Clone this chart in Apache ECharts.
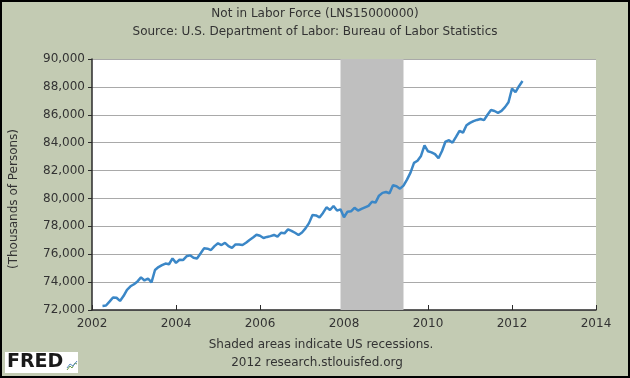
<!DOCTYPE html>
<html>
<head>
<meta charset="utf-8">
<script src="https://cdn.jsdelivr.net/npm/echarts@6/dist/echarts.min.js"></script>
<style>
html,body{margin:0;padding:0;background:#c3cbb3;}
#chart{width:630px;height:378px;}
</style>
</head>
<body>
<div id="chart"></div>
<script>
// ---- data ----
const startYear = 2002, startMonth = 4; // first observation: 2002-04
const notInLaborForce = [
  72290, 72320, 72600, 72900, 72880, 72650, 73000, 73450, 73700,
  73850, 74050, 74340, 74120, 74260, 73980, 74870, 75080, 75220, 75330, 75280, 75700,
  75380, 75600, 75580, 75850, 75920, 75750, 75700, 76050, 76420, 76400, 76300, 76580,
  76780, 76660, 76820, 76580, 76450, 76700, 76690, 76660, 76820, 77020, 77200, 77400,
  77320, 77160, 77240, 77300, 77380, 77260, 77540, 77500, 77780, 77680, 77540, 77380,
  77560, 77850, 78230, 78810, 78780, 78640, 78960, 79360, 79170, 79460, 79130, 79220,
  78650, 79050, 79080, 79330, 79130, 79250, 79360, 79470, 79760, 79700, 80200, 80400,
  80460, 80370, 80940, 80880, 80700, 80920, 81350, 81850, 82550, 82700, 83050, 83800,
  83380, 83300, 83180, 82880, 83400, 84080, 84180, 84000, 84420, 84850, 84720, 85250,
  85420, 85540, 85630, 85700, 85620, 86000, 86340, 86270, 86140, 86280, 86550, 86900,
  87880, 87620, 88050, 88420
];
const recessionStart = '2007-12';
const recessionEnd = '2009-06';
const xTickYears = [2002, 2004, 2006, 2008, 2010, 2012, 2014];
const yTicks = [72000, 74000, 76000, 78000, 80000, 82000, 84000, 86000, 88000, 90000];

// ---- helpers ----
function ym(str){ const p = str.split('-'); return +p[0] + (+p[1]-1)/12; }
const dates = notInLaborForce.map((_, i) => {
  const t = (startMonth - 1) + i;
  const y = startYear + Math.floor(t/12), m = t % 12 + 1;
  return y + '-' + (m < 10 ? '0' + m : m);
});
const seriesData = notInLaborForce.map((v, i) => [ym(dates[i]), v]);

const txt = '#333333';
const font12 = '12px "DejaVu Sans", sans-serif';

const chart = echarts.init(document.getElementById('chart'), null, {renderer:'canvas'});
chart.setOption({
  backgroundColor: '#c3cbb3',
  animation: false,
  grid: {left: 92, right: 34, top: 59, bottom: 68, show: true, backgroundColor: '#ffffff', borderWidth: 0},
  xAxis: {
    type: 'value', min: xTickYears[0], max: xTickYears[xTickYears.length-1], interval: 2,
    axisLine: {show: true, lineStyle: {color: '#2b2b2b', width: 1.5}},
    axisTick: {show: true, inside: true, length: 5, lineStyle: {color: '#2b2b2b', width: 1}},
    axisLabel: {color: txt, fontSize: 12, fontFamily: 'DejaVu Sans', margin: 8, formatter: v => String(v)},
    splitLine: {show: false}
  },
  yAxis: {
    type: 'value', min: yTicks[0], max: yTicks[yTicks.length-1], interval: 2000,
    axisLine: {show: true, lineStyle: {color: '#2b2b2b', width: 1.5}},
    axisTick: {show: true, inside: false, length: 4, lineStyle: {color: '#2b2b2b', width: 1}},
    axisLabel: {color: txt, fontSize: 12, fontFamily: 'DejaVu Sans', margin: 7,
      formatter: v => v.toLocaleString('en-US')},
    splitLine: {show: true, lineStyle: {color: '#a9a9a9', width: 1}}
  },
  series: [{
    type: 'line',
    data: seriesData,
    showSymbol: false,
    lineStyle: {color: '#3b87c7', width: 2.5},
    itemStyle: {color: '#3b87c7'},
    markArea: {
      silent: true,
      itemStyle: {color: '#bfbfbf', opacity: 1},
      data: [[{xAxis: ym(recessionStart)}, {xAxis: ym(recessionEnd)}]]
    }
  }],
  graphic: [
    {type: 'text', left: 'center', top: 8, style: {text: 'Not in Labor Force (LNS15000000)', font: font12, fill: txt}},
    {type: 'text', left: 'center', top: 26, style: {text: 'Source: U.S. Department of Labor: Bureau of Labor Statistics', font: font12, fill: txt}},
    {type: 'text', x: 14, y: 199, rotation: Math.PI/2,
      style: {text: '(Thousands of Persons)', font: font12, fill: txt, align: 'center', verticalAlign: 'middle', textAlign: 'center', textVerticalAlign: 'middle'}},
    {type: 'text', x: 321, y: 345,
      style: {text: 'Shaded areas indicate US recessions.', font: font12, fill: txt, align: 'center', verticalAlign: 'middle', textAlign: 'center', textVerticalAlign: 'middle'}},
    {type: 'text', x: 317, y: 363,
      style: {text: '2012 research.stlouisfed.org', font: font12, fill: txt, align: 'center', verticalAlign: 'middle', textAlign: 'center', textVerticalAlign: 'middle'}},
    // FRED logo
    {type: 'rect', shape: {x: 5, y: 352, width: 73, height: 21}, style: {fill: '#ffffff'}},
    {type: 'text', x: 7, y: 362.5,
      style: {text: 'FRED', font: 'bold 19px "DejaVu Sans", sans-serif', fill: '#1a1a1a', align: 'left', verticalAlign: 'middle', textAlign: 'left', textVerticalAlign: 'middle'}},
    {type: 'polyline', shape: {points: [[67,370],[70,366],[72,368],[75,363],[77,364]]}, style: {stroke: '#6a9a4a', lineWidth: 1, fill: null}},
    {type: 'polyline', shape: {points: [[67,368],[70,364],[73,366],[77,361]]}, style: {stroke: '#5a8ac0', lineWidth: 1, fill: null}},
    // outer border
    {type: 'rect', shape: {x: 1, y: 1, width: 628, height: 376}, style: {fill: null, stroke: '#000000', lineWidth: 2}, z: 100}
  ]
});
</script>
</body>
</html>
